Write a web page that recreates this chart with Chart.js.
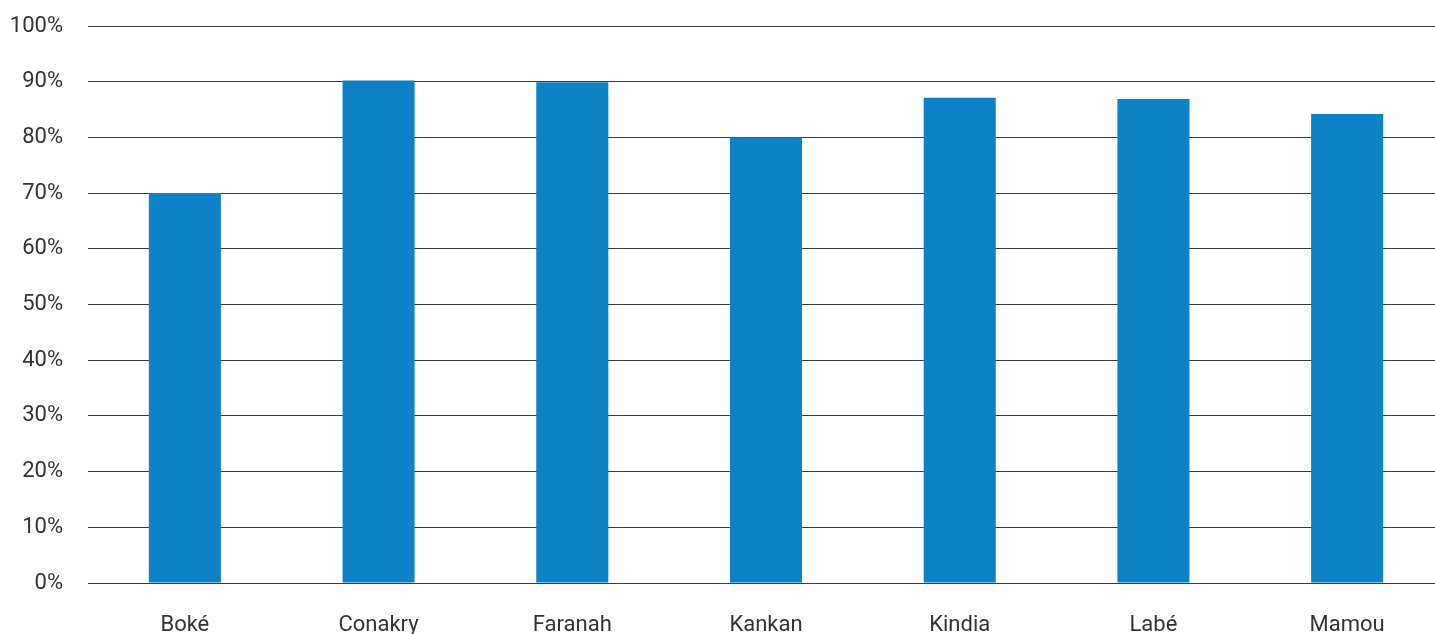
<!DOCTYPE html>
<html>
<head>
<meta charset="utf-8">
<script src="https://cdn.jsdelivr.net/npm/chart.js@4"></script>
<style>
  html, body { margin: 0; padding: 0; background: #fff; overflow: hidden; }
  #wrap { width: 1444px; height: 634px; }
</style>
</head>
<body>
<div id="wrap"><canvas id="myChart"></canvas></div>
<script>
const regions = ['Boké', 'Conakry', 'Faranah', 'Kankan', 'Kindia', 'Labé', 'Mamou'];
const shares = [70.0, 90.2, 89.9, 80.0, 87.1, 86.9, 84.2];
const yTicks = [0, 10, 20, 30, 40, 50, 60, 70, 80, 90, 100];

const textColor = '#333333';
const barColor = '#0e82c6';
const tickFont = { family: 'Roboto', size: 22, weight: 400 };

var ctx = document.getElementById('myChart').getContext('2d');
var myChart = new Chart(ctx, {
  type: 'bar',
  data: {
    labels: regions,
    datasets: [{
      data: shares,
      backgroundColor: barColor,
      borderWidth: 0,
      categoryPercentage: 1,
      barPercentage: 0.372
    }]
  },
  options: {
    responsive: true,
    maintainAspectRatio: false,
    animation: false,
    layout: { padding: { left: 10, top: 0, right: 0, bottom: 0 } },
    plugins: {
      legend: { display: false },
      tooltip: { enabled: false }
    },
    scales: {
      x: {
        grid: { display: false },
        border: { display: false },
        ticks: {
          color: textColor,
          padding: 21,
          font: tickFont
        },
        afterFit: (axis) => {
          axis.height = 51;
          axis.paddingLeft = 0;
          axis.paddingRight = 0;
        }
      },
      y: {
        min: 0,
        max: 100,
        afterBuildTicks: (axis) => {
          axis.ticks = yTicks.map(v => ({ value: v }));
        },
        grid: { color: '#3a3a3a', lineWidth: 1, drawTicks: false },
        border: { display: false },
        ticks: {
          color: textColor,
          padding: 25,
          font: tickFont,
          callback: (v) => v + '%'
        },
        afterFit: (axis) => {
          axis.width = 78;
          axis.paddingTop = 26;
          axis.paddingBottom = 13;
        }
      }
    }
  }
});
</script>
</body>
</html>
